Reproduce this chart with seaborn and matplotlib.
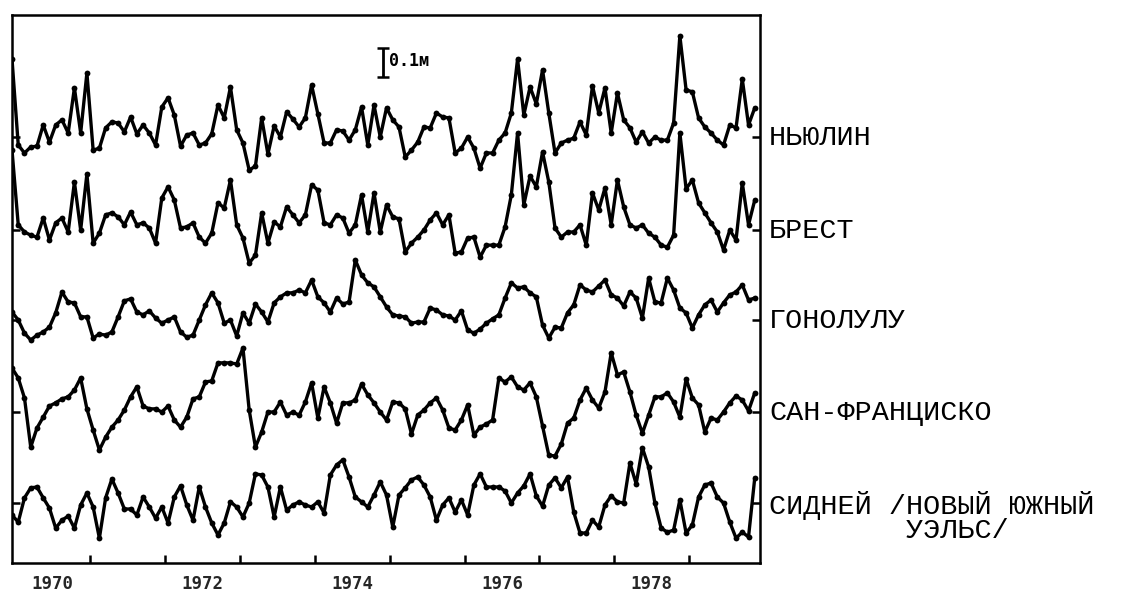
import numpy as np
import pandas as pd
import matplotlib
matplotlib.use("Agg")
import matplotlib.pyplot as plt
import matplotlib.transforms as mtransforms
import seaborn as sns

# ---- data: monthly sea-level anomalies (cm), Jan 1970 .. Dec 1979 ----
stations = ["НЬЮЛИН", "БРЕСТ", "ГОНОЛУЛУ", "САН-ФРАНЦИСКО",
            "СИДНЕЙ /НОВЫЙ ЮЖНЫЙ\n        УЭЛЬС/"]

newlyn = [27.3, -2.8, -5.6, -3.5, -3.2, 4.2, -1.8, 4.2, 6.0, 1.4,
          17.2, 1.4, 22.4, -4.6, -3.9, 3.2, 5.3, 4.9, 1.8, 7.0,
          1.1, 4.2, 1.4, -2.8, 10.5, 13.7, 7.7, -3.2, 0.7, 1.4,
          -2.8, -2.1, 1.1, 11.2, 6.7, 17.5, 2.5, -2.1, -11.6, -10.2,
          6.7, -6.0, 3.9, 0.0, 8.8, 6.3, 3.5, 6.7, 18.2, 8.1,
          -2.1, -2.1, 2.5, 2.1, -1.1, 2.5, 10.5, -2.8, 11.2, 0.0,
          10.2, 6.0, 3.5, -7.0, -4.6, -1.8, 3.5, 3.2, 8.4, 7.0,
          6.7, -5.6, -3.9, 0.0, -3.9, -10.9, -5.6, -5.6, -1.1, 1.4,
          8.4, 27.3, 7.7, 17.5, 11.6, 23.5, 8.4, -5.6, -2.1, -1.1,
          -0.4, 5.3, 0.7, 17.9, 8.4, 17.2, 1.4, 15.4, 6.0, 3.2,
          -1.8, 1.8, -2.1, 0.0, -1.1, -1.1, 4.9, 35.4, 16.5, 15.8,
          6.7, 3.5, 1.4, -1.1, -2.8, 4.2, 3.2, 20.3, 4.2, 10.2]

brest = [28.0, 1.8, -0.7, -1.8, -2.5, 4.2, -3.5, 2.5, 4.2, -0.7,
         16.8, 0.0, 19.6, -4.6, -1.1, 5.3, 6.0, 4.6, 1.8, 6.3,
         1.8, 2.5, 0.7, -4.6, 11.2, 15.1, 10.5, 0.7, 1.1, 2.5,
         -2.5, -4.6, -1.1, 9.5, 7.7, 17.5, 1.8, -2.8, -11.6, -8.8,
         6.0, -4.6, 2.8, 1.1, 8.1, 5.3, 2.5, 5.3, 15.8, 14.0,
         2.5, 1.8, 5.3, 4.2, -1.1, 1.8, 12.3, -0.7, 13.0, -0.7,
         8.8, 4.6, 3.9, -7.7, -4.6, -2.5, 0.0, 3.5, 6.0, 1.8,
         5.3, -8.1, -7.7, -2.8, -2.5, -9.5, -5.3, -5.3, -5.3, 1.1,
         12.3, 34.0, 8.8, 18.9, 15.1, 27.3, 16.8, 0.7, -2.5, -0.7,
         -0.7, 1.8, -5.3, 13.0, 7.0, 14.7, 1.8, 17.5, 8.1, 1.8,
         0.7, 1.8, -1.1, -2.5, -5.3, -6.0, -1.8, 34.0, 14.4, 17.5,
         9.5, 6.0, 2.5, -0.7, -7.0, 0.0, -3.5, 16.5, 1.8, 10.5]

honolulu = [2.8, 0.0, -4.6, -7.0, -5.3, -4.2, -2.5, 2.5, 9.8, 6.3,
            6.0, 1.1, 1.1, -6.3, -4.9, -5.3, -4.2, 1.1, 6.7, 7.4,
            2.8, 1.8, 3.2, 0.7, -1.1, 0.0, 1.1, -4.2, -6.0, -5.3,
            0.0, 5.3, 9.5, 6.0, -1.1, 0.0, -5.6, 2.5, -1.1, 5.6,
            2.8, -0.7, 6.0, 8.1, 9.5, 9.5, 10.5, 9.5, 14.0, 8.1,
            6.0, 2.8, 7.7, 5.6, 6.3, 21.0, 15.8, 13.0, 11.6, 8.1,
            4.6, 1.8, 1.4, 1.1, -1.1, -0.7, -0.7, 4.2, 3.5, 1.8,
            1.4, 0.0, 3.2, -3.5, -4.6, -3.2, -1.1, 0.4, 1.8, 7.7,
            13.0, 11.2, 11.6, 9.5, 8.1, -1.8, -6.3, -2.5, -2.8, 2.5,
            5.3, 12.3, 10.5, 9.8, 11.9, 14.0, 8.8, 7.7, 4.9, 9.8,
            7.7, 0.7, 14.7, 6.3, 6.0, 14.7, 10.5, 4.2, 2.5, -2.8,
            1.8, 5.3, 7.0, 2.8, 6.0, 8.8, 9.8, 12.3, 7.0, 7.7]

san_francisco = [15.4, 11.9, 4.9, -12.3, -5.6, -1.8, 2.1, 3.2, 4.6, 5.3,
                 7.7, 11.9, 1.1, -6.3, -13.3, -8.8, -5.3, -2.8, 0.7, 5.3,
                 8.8, 2.1, 1.1, 1.1, 0.0, 2.1, -2.8, -5.3, -1.8, 4.6,
                 5.3, 10.5, 10.9, 17.2, 17.2, 17.2, 16.8, 22.4, 0.7, -12.3,
                 -7.0, 0.0, 0.0, 3.5, -1.1, 0.0, -1.1, 3.5, 10.2, -2.1,
                 8.8, 3.2, -3.9, 3.2, 3.2, 4.2, 9.8, 6.0, 3.2, 0.0,
                 -2.8, 3.5, 3.2, 1.1, -7.7, -1.1, 0.7, 3.2, 4.9, 0.7,
                 -5.6, -6.3, -2.8, 2.5, -8.1, -5.3, -4.2, -2.8, 11.9, 10.5,
                 12.3, 8.8, 7.7, 10.2, 5.3, -4.9, -15.1, -15.4, -11.2, -3.9,
                 -2.1, 4.2, 8.4, 4.2, 1.4, 7.0, 20.7, 13.0, 14.0, 7.0,
                 -1.1, -7.4, -1.1, 5.3, 5.3, 6.7, 3.5, -1.8, 11.6, 4.9,
                 2.5, -7.0, -2.1, -2.8, 0.0, 3.2, 5.6, 4.2, 0.4, 6.7]

sydney = [-4.2, -6.7, 1.8, 5.3, 5.6, 1.8, -1.8, -8.8, -6.0, -4.6,
          -8.8, -0.7, 3.5, -1.4, -12.3, 1.8, 8.4, 3.5, -2.1, -2.1,
          -4.2, 2.1, -1.4, -5.3, -1.4, -7.0, 2.1, 6.0, -0.7, -6.0,
          5.6, -1.4, -7.0, -11.2, -7.0, 0.4, -1.4, -4.9, 0.0, 10.2,
          9.8, 5.6, -4.9, 5.6, -2.5, -0.7, 0.4, -0.7, -1.4, 0.4,
          -3.5, 9.8, 13.3, 15.1, 9.1, 2.1, 0.4, -1.4, 2.8, 7.4,
          2.8, -8.4, 2.8, 5.3, 8.1, 9.1, 6.3, 2.1, -6.0, -0.7,
          1.8, -3.2, 1.1, -4.2, 6.3, 10.2, 5.6, 5.6, 5.6, 4.2,
          0.0, 3.5, 6.0, 10.2, 2.5, -1.1, 6.3, 8.8, 5.3, 9.1,
          -3.2, -10.5, -10.5, -6.0, -8.4, -0.7, 2.5, 0.4, 0.0, 14.0,
          6.7, 19.3, 12.6, 0.0, -8.8, -10.2, -9.5, 1.1, -10.5, -7.7,
          2.1, 6.3, 7.0, 2.1, 0.0, -6.7, -12.3, -10.2, -11.9, 8.8]

series = [newlyn, brest, honolulu, san_francisco, sydney]

year_ticks = list(range(1971, 1980))
year_labels = ["1970", "1972", "1974", "1976", "1978"]
scale_label = "0.1м"
scale_size_cm = 10.0  # 0.1 m

# ---- layout (vertical stacking of the curves, in cm) ----
offsets = [149.1, 116.55, 85.05, 52.85, 21.0]
months = 1970 + (np.arange(len(newlyn)) - 0.5) / 12.0

sns.set_style("white")
plt.rcParams["font.family"] = ["Liberation Mono", "DejaVu Sans Mono"]

W, H = 1138, 596
fig = plt.figure(figsize=(W / 100, H / 100), dpi=100)
ax = fig.add_axes([12 / W, 33 / H, 748 / W, 548 / H])

frames = []
for name, vals, off in zip(stations, series, offsets):
    frames.append(pd.DataFrame({"station": name, "t": months,
                                "level": np.asarray(vals, float) + off}))
data = pd.concat(frames, ignore_index=True)

sns.lineplot(data=data, x="t", y="level", units="station", estimator=None,
             sort=False, color="black", lw=2.4, marker="o", markersize=4.2,
             markeredgewidth=0, ax=ax, legend=False)

ax.set_xlim(1970 - 0.5 / 12, 1970 - 0.5 / 12 + 748 / 74.9)
ax.set_ylim(0, 548 * 0.35)
ax.set_xlabel("")
ax.set_ylabel("")

for s in ax.spines.values():
    s.set_visible(True)
    s.set_color("black")
    s.set_linewidth(1.8)

# x ticks: year boundaries (inward), labels centred in even years
ax.set_xticks(year_ticks)
ax.set_xticklabels([])
ax.set_xticks([int(y) + 0.5 for y in year_labels], minor=True)
ax.set_xticklabels(year_labels, minor=True, fontfamily="DejaVu Sans Mono",
                   fontweight="bold", fontsize=12.5)
ax.tick_params(axis="x", which="major", direction="in", length=6, width=1.8,
               bottom=True, top=False, color="black")
ax.tick_params(axis="x", which="minor", length=0, pad=8.5, bottom=True)

# y ticks: each curve's reference level, both sides, inward
ax.set_yticks(offsets)
ax.set_yticklabels([])
ax.tick_params(axis="y", direction="in", length=6, width=1.8,
               left=True, right=True, color="black")

# station names at the right (first line centred on the curve's level)
trans = mtransforms.blended_transform_factory(ax.transAxes, ax.transData)
t_top = mtransforms.offset_copy(trans, fig=fig, x=0, y=12, units="dots")
for name, off in zip(stations, offsets):
    ax.text(757 / 748, off, name, transform=t_top, ha="left", va="top",
            fontsize=20.5, linespacing=0.92, color="black", clip_on=False)

# 0.1 m scale bar
sx = 1970 - 0.5 / 12 + 371 / 74.9
sy = 175.2
ax.errorbar([sx], [sy], yerr=[[scale_size_cm / 2], [scale_size_cm / 2]],
            fmt="none", ecolor="black", elinewidth=2.0, capsize=4.5,
            capthick=1.8)
ax.text(sx + 0.08, sy + 0.5, scale_label, ha="left", va="center",
        fontfamily="DejaVu Sans Mono", fontweight="bold", fontsize=12,
        color="black")

fig.savefig("out.png", dpi=100, facecolor="white")
